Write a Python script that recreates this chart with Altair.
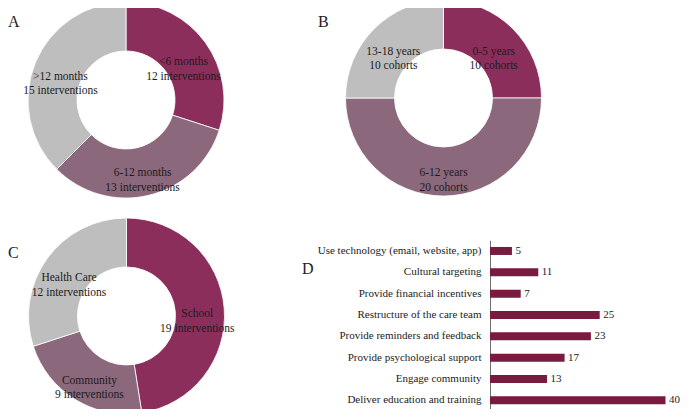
import altair as alt
import pandas as pd

# ---------------- data ----------------
# Panel A: intervention duration
dur_cats = ["<6 months", "6-12 months", ">12 months"]
dur_vals = [12, 13, 15]
# Panel B: age of cohorts
age_cats = ["0-5 years", "6-12 years", "13-18 years"]
age_vals = [10, 20, 10]
# Panel C: setting
set_cats = ["School", "Community", "Health Care"]
set_vals = [19, 9, 12]
# Panel D: strategies
strat_cats = [
    "Use technology (email, website, app)",
    "Cultural targeting",
    "Provide financial incentives",
    "Restructure of the care team",
    "Provide reminders and feedback",
    "Provide psychological support",
    "Engage community",
    "Deliver education and training",
]
strat_vals = [5, 11, 7, 25, 23, 17, 13, 40]

panel_letters = ["A", "B", "C", "D"]

# ---------------- style ----------------
DARK = "#8C2E5C"
MID = "#8B687C"
LIGHT = "#BEBEBE"
BAR = "#7A1A40"
INK = "#1c1c1c"
FONT = "Liberation Serif"


def donut_df(cats, vals, unit):
    return pd.DataFrame({
        "cat": cats,
        "value": vals,
        "idx": list(range(len(cats))),
        "label": [f"{c}\n{v} {unit}" for c, v in zip(cats, vals)],
    })


def donut(df, cx, cy):
    base = alt.Chart(df).encode(
        theta=alt.Theta("value:Q", stack=True),
        order=alt.Order("idx:Q"),
    )
    arc = base.mark_arc(outerRadius=98, innerRadius=49, stroke="white", strokeWidth=0.8).encode(
        color=alt.Color("cat:N", scale=alt.Scale(domain=list(df["cat"]), range=[DARK, MID, LIGHT]), legend=None),
        x=alt.value(cx),
        y=alt.value(cy),
    )
    txt = base.mark_text(radius=71, dy=4, lineBreak="\n", font=FONT, fontSize=11.5, color=INK,
                         lineHeight=14.5).encode(
        text="label:N",
        x=alt.value(cx),
        y=alt.value(cy),
    )
    return alt.layer(arc, txt)


donut_a = donut(donut_df(dur_cats, dur_vals, "interventions"), 118, 92)
donut_b = donut(donut_df(age_cats, age_vals, "cohorts"), 435.5, 90)
donut_c = donut(donut_df(set_cats, set_vals, "interventions"), 118.5, 308)

bar_df = pd.DataFrame({"strategy": strat_cats, "count": strat_vals})
xsc = alt.Scale(domain=[0, 40], range=[482, 657.5])
ysc = alt.Scale(domain=strat_cats, range=[232.3, 403], paddingInner=0.625, paddingOuter=0.3125)
yaxis = alt.Axis(offset=-482, ticks=False, tickSize=0, domainColor="#6e6e6e", domainWidth=1,
                 labelFont=FONT, labelFontSize=11, labelColor=INK, labelPadding=9,
                 labelLimit=0, grid=False, title=None)

bars = alt.Chart(bar_df).mark_bar(color=BAR).encode(
    x=alt.X("count:Q", scale=xsc, axis=None),
    y=alt.Y("strategy:N", scale=ysc, axis=yaxis),
)
vals = alt.Chart(bar_df).mark_text(align="left", dx=3.5, font=FONT, fontSize=11, color=INK).encode(
    x=alt.X("count:Q", scale=xsc, axis=None),
    y=alt.Y("strategy:N", scale=ysc, axis=yaxis),
    text="count:Q",
)
panel_d = alt.layer(bars, vals)


def letter(t, x, y):
    return alt.Chart(pd.DataFrame({"t": [t]})).mark_text(
        align="left", baseline="alphabetic", font=FONT, fontSize=16, color=INK
    ).encode(text="t:N", x=alt.value(x), y=alt.value(y))


letters = [
    letter(panel_letters[0], 0, 19),
    letter(panel_letters[1], 310, 19),
    letter(panel_letters[2], 0, 250),
    letter(panel_letters[3], 294, 266),
]

chart = alt.layer(donut_a, donut_b, donut_c, panel_d, *letters).resolve_scale(
    color="independent", theta="independent"
).properties(
    width=673, height=401, padding=0, autosize=alt.AutoSizeParams(type="none")
).configure_view(stroke=None)

chart.save("out.html", embed_options={"renderer": "svg", "actions": False})
